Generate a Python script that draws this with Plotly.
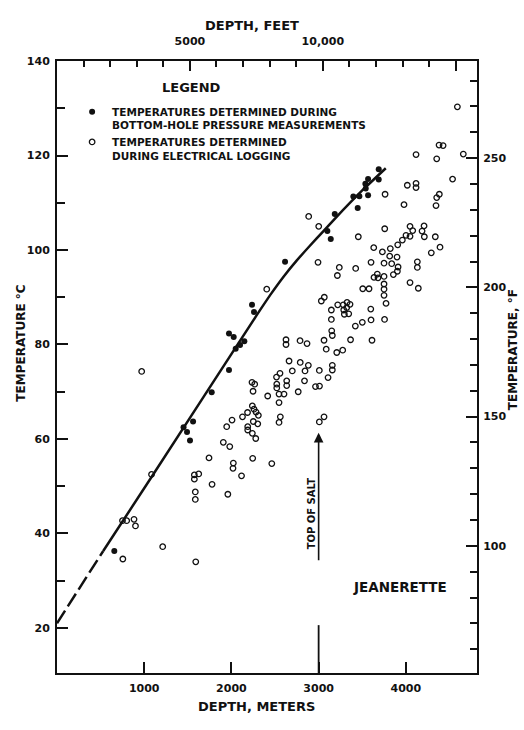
import plotly.graph_objects as go

# ---------------- data (depth in meters, temperature in deg C) ----------------
bhp_depth_m = [657, 1451, 1491, 1525, 1560, 1774, 1972, 1972, 2026, 2049, 2099, 2148,
               2236, 2259, 2615, 3100, 3139, 3185, 3398, 3448, 3467, 3536, 3540, 3567,
               3567, 3689, 3689]
bhp_temp_c = [36.3, 62.5, 61.5, 59.7, 63.7, 69.9, 74.6, 82.3, 81.6, 79.1, 79.9, 80.7,
              88.4, 86.9, 97.5, 104.0, 102.3, 107.6, 111.3, 108.9, 111.4, 114.0, 113.0, 111.6,
              115.0, 114.9, 117.1]

log_depth_m = [
    751, 799, 883, 900, 755, 971, 1084, 1212, 1575, 1575, 1625, 1586, 1586, 1778, 1959, 1591,
    2022, 2018, 2116, 2244, 2463, 1743, 1907, 1981, 1946, 2007, 2127, 2185, 2240, 2259, 2282,
    2309, 2251, 2302, 2187, 2187, 2240, 2279,
    2236, 2267, 2248, 2416, 2520, 2520, 2546, 2603, 2517, 2557, 2634, 2634, 2546, 2561, 2546,
    3008, 3062, 2766, 2838, 2964, 3010, 2698, 2844, 3008, 3108, 2661, 2789, 2882, 3157, 3157,
    2626, 2626, 2787, 2867, 3087, 3208, 3276, 3062, 3366, 3612, 3150, 3157,
    2405, 3031, 3065, 3146, 3146, 3219, 3283, 3326, 3360, 3322, 3288, 3295, 3345, 3421, 3501,
    3601, 3598, 3756, 3773, 3750, 3750, 3750, 3506, 3578, 4048, 4143,
    3215, 3635, 3673, 3681, 3750, 3857, 3903, 3911, 3838, 3750, 3601, 3425, 3237, 2993, 3815,
    3899, 3731, 3632, 3822, 3907, 3960, 4002, 4048, 4212, 4338, 4048, 4079, 4186, 4209, 4392,
    4292, 4132, 4132, 3455, 3758, 3001, 2886, 3762, 3979, 4017, 4117, 4117, 4346, 4354, 4384,
    4536, 4117, 4354, 4659, 4381, 4427, 4591]
log_temp_c = [
    42.7, 42.7, 43.0, 41.6, 34.6, 74.3, 52.5, 37.2, 52.4, 51.5, 52.6, 48.8, 47.2, 50.4, 48.3, 34.0,
    54.9, 53.8, 52.2, 55.9, 54.8, 56.0, 59.3, 58.4, 62.6, 64.0, 64.7, 65.6, 67.0, 66.3, 65.7,
    65.0, 63.7, 63.2, 62.6, 61.9, 61.2, 60.1,
    72.0, 71.6, 70.1, 69.1, 71.6, 70.8, 69.5, 69.5, 73.1, 73.9, 72.3, 71.3, 67.7, 64.7, 63.5,
    63.6, 64.7, 70.0, 72.3, 71.1, 71.2, 74.4, 74.4, 74.5, 73.0, 76.5, 76.2, 75.6, 75.6, 74.6,
    81.0, 80.0, 80.8, 80.2, 79.0, 78.3, 78.8, 80.9, 81.0, 80.9, 82.9, 81.9,
    91.7, 89.2, 90.0, 87.3, 85.3, 88.4, 88.4, 88.9, 88.5, 87.8, 87.3, 86.4, 86.5, 83.9, 84.7,
    85.2, 87.5, 85.3, 88.7, 90.4, 91.7, 92.8, 91.8, 91.8, 93.1, 91.9,
    94.6, 94.2, 94.9, 94.1, 94.4, 94.8, 95.5, 96.4, 97.1, 97.2, 97.4, 96.1, 96.3, 97.4, 98.7,
    98.5, 99.6, 100.5, 100.3, 101.1, 102.1, 103.1, 102.9, 102.8, 102.8, 105.0, 104.1, 104.0, 105.1, 100.6,
    99.4, 97.5, 96.3, 102.8, 104.5, 105.0, 107.1, 111.8, 109.6, 113.7, 114.1, 113.2, 109.4, 111.1, 111.8,
    115.0, 120.2, 119.3, 120.3, 122.2, 122.1, 130.3]

# gradient curve: extrapolated (dashed) part and measured (solid) part
dash_depth_m = [0, 530]
dash_temp_c = [21.0, 36.3]
curve_depth_m = [530, 1086, 2290, 2450, 2600, 2750, 2900, 3050, 3185, 3500, 3770]
curve_temp_c = [36.3, 52.0, 86.2, 90.6, 94.4, 97.8, 100.9, 103.9, 106.6, 112.6, 117.3]

# top of salt marker
salt_depth_m = 3000
salt_arrow_head_c = 61.3
salt_arrow_tail_c = 34.0
salt_tick_top_c = 20.6

# axes
depth_range_m = [0, 4816]
temp_range_c = [10.47, 140]
temp_range_f = [50.8, 287.6]
m_ticks = [1000, 2000, 3000, 4000]
c_ticks = [20, 40, 60, 80, 100, 120, 140]
f_ticks = [100, 150, 200, 250]
ft_ticks = [5000, 10000, 15000]
ft_ticktext = ["5000", "10,000", ""]
FT_PER_M = 1 / 0.3048

FONT = "DejaVu Sans"
INK = "#111111"

fig = go.Figure()
fig.add_trace(go.Scatter(x=dash_depth_m, y=dash_temp_c, mode="lines",
                         line=dict(color=INK, width=2.5, dash="15px,5px"),
                         showlegend=False, hoverinfo="skip"))
fig.add_trace(go.Scatter(x=curve_depth_m, y=curve_temp_c, mode="lines",
                         line=dict(color=INK, width=2.5, shape="spline", smoothing=0.5),
                         showlegend=False, hoverinfo="skip"))
fig.add_trace(go.Scatter(x=bhp_depth_m, y=bhp_temp_c, mode="markers",
                         marker=dict(symbol="circle", size=6, color=INK),
                         name="TEMPERATURES DETERMINED DURING<br>BOTTOM-HOLE PRESSURE MEASUREMENTS"))
fig.add_trace(go.Scatter(x=log_depth_m, y=log_temp_c, mode="markers",
                         marker=dict(symbol="circle-open", size=5.5, color=INK, line=dict(width=1.3)),
                         name="TEMPERATURES DETERMINED<br>DURING ELECTRICAL LOGGING"))
# empty trace to activate the feet / Fahrenheit axes
fig.add_trace(go.Scatter(x=[], y=[], xaxis="x2", yaxis="y2", showlegend=False, hoverinfo="skip"))

tickfont = dict(family=FONT, size=11, color=INK, weight="bold")
common = dict(showline=True, linewidth=2, linecolor=INK, showgrid=False, zeroline=False,
              ticks="inside", tickwidth=1.5, tickcolor=INK, tickfont=tickfont)

fig.update_layout(
    width=524, height=730,
    margin=dict(l=57, r=47, t=61, b=57),
    paper_bgcolor="white", plot_bgcolor="white",
    font=dict(family=FONT, size=11, color=INK, weight="bold"),
    xaxis=dict(range=depth_range_m, tickvals=m_ticks, ticklen=11, ticklabelstandoff=4, **common),
    xaxis2=dict(range=[depth_range_m[0] * FT_PER_M, depth_range_m[1] * FT_PER_M],
                overlaying="x", side="top", anchor="y",
                tickvals=ft_ticks, ticktext=ft_ticktext, ticklen=10, ticklabelstandoff=10,
                minor=dict(ticks="inside", ticklen=6, tickwidth=1.5, tickcolor=INK, dtick=1000, tick0=0),
                **common),
    yaxis=dict(range=temp_range_c, tickvals=c_ticks, ticklen=11, ticklabelstandoff=3,
               minor=dict(ticks="inside", ticklen=8, tickwidth=1.5, tickcolor=INK, dtick=10, tick0=0),
               **common),
    yaxis2=dict(range=temp_range_f, overlaying="y", side="right", anchor="x",
                tickvals=f_ticks, ticklen=11, ticklabelstandoff=2,
                minor=dict(ticks="inside", ticklen=7, tickwidth=1.5, tickcolor=INK, dtick=10, tick0=0),
                **common),
    legend=dict(x=0.036, y=0.939, xanchor="left", yanchor="top",
                bgcolor="rgba(0,0,0,0)", valign="top", tracegroupgap=4,
                font=dict(family=FONT, size=10.5, color=INK, weight="bold")),
    showlegend=True,
)

def note(text, x, y, size, angle=0):
    fig.add_annotation(text=text, x=x, y=y, xref="paper", yref="paper", showarrow=False,
                       textangle=angle, xanchor="center", yanchor="middle",
                       font=dict(family=FONT, size=size, color=INK, weight="bold"))

note("DEPTH, FEET", 0.464, 1.0588, 13)
note("DEPTH, METERS", 0.476, -0.0547, 13)
note("TEMPERATURE °C", -0.0845, 0.539, 12, -90)
note("TEMPERATURE, °F", 1.0857, 0.529, 12, -90)
note("LEGEND", 0.3214, 0.9567, 13)
note("JEANERETTE", 0.8167, 0.1405, 13.5)
note("TOP OF SALT", 0.605, 0.261, 10, -90)

fig.add_annotation(x=salt_depth_m, y=salt_arrow_head_c, ax=salt_depth_m, ay=salt_arrow_tail_c,
                   xref="x", yref="y", axref="x", ayref="y", text="", showarrow=True,
                   arrowhead=2, arrowsize=1.2, arrowwidth=1.6, arrowcolor=INK)
fig.add_shape(type="line", xref="x", yref="y", x0=salt_depth_m, x1=salt_depth_m,
              y0=salt_tick_top_c, y1=temp_range_c[0], line=dict(color=INK, width=1.8))

fig.write_html("out.html")
